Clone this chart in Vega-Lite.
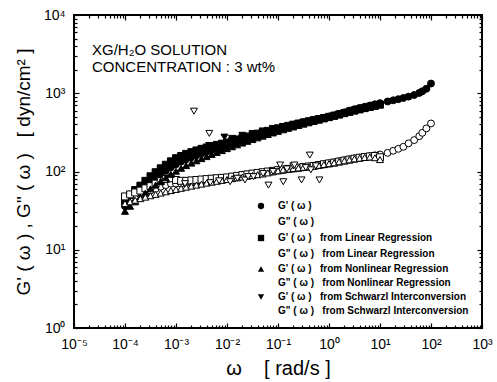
{
  "$schema": "https://vega.github.io/schema/vega-lite/v6.json",
  "width": 408,
  "height": 313,
  "autosize": {"type": "none"},
  "padding": {"left": 74, "top": 15, "right": 15, "bottom": 54},
  "background": "white",
  "config": {
    "font": "Liberation Sans",
    "view": {"stroke": "black", "strokeWidth": 2}
  },
  "datasets": {
    "names": [
      {"s": "A", "series": "G' ( ω )"},
      {"s": "B", "series": "G\" ( ω )"},
      {"s": "C", "series": "G' ( ω )  from Linear Regression"},
      {"s": "D", "series": "G\" ( ω )  from Linear Regression"},
      {"s": "E", "series": "G' ( ω )  from Nonlinear Regression"},
      {"s": "F", "series": "G\" ( ω )  from Nonlinear Regression"},
      {"s": "G", "series": "G' ( ω )  from Schwarzl Interconversion"},
      {"s": "H", "series": "G\" ( ω )  from Schwarzl Interconversion"}
    ],
    "pts": [
      {"s":"A","w":0.0001,"G":36},{"s":"A","w":0.000126,"G":43},{"s":"A","w":0.000158,"G":49},{"s":"A","w":0.0002,"G":56},{"s":"A","w":0.000251,"G":64},{"s":"A","w":0.000316,"G":73},{"s":"A","w":0.000398,"G":82},{"s":"A","w":0.000501,"G":92},{"s":"A","w":0.000631,"G":102},{"s":"A","w":0.000794,"G":113},{"s":"A","w":0.001,"G":124},{"s":"A","w":0.00126,"G":134},{"s":"A","w":0.00158,"G":143},{"s":"A","w":0.002,"G":152},{"s":"A","w":0.00251,"G":161},{"s":"A","w":0.00316,"G":170},{"s":"A","w":0.00398,"G":179},{"s":"A","w":0.00501,"G":188},{"s":"A","w":0.00631,"G":197},{"s":"A","w":0.00794,"G":206},{"s":"A","w":0.01,"G":215},{"s":"A","w":0.0126,"G":226},{"s":"A","w":0.0158,"G":238},{"s":"A","w":0.02,"G":250},{"s":"A","w":0.0251,"G":262},
      {"s":"A","w":0.0316,"G":275},{"s":"A","w":0.0398,"G":290},{"s":"A","w":0.0501,"G":305},{"s":"A","w":0.0631,"G":320},{"s":"A","w":0.0794,"G":335},{"s":"A","w":0.1,"G":350},{"s":"A","w":0.126,"G":365},{"s":"A","w":0.158,"G":380},{"s":"A","w":0.2,"G":395},{"s":"A","w":0.251,"G":410},{"s":"A","w":0.316,"G":425},{"s":"A","w":0.398,"G":440},{"s":"A","w":0.501,"G":455},{"s":"A","w":0.631,"G":470},{"s":"A","w":0.794,"G":487},{"s":"A","w":1,"G":505},{"s":"A","w":1.26,"G":522},{"s":"A","w":1.58,"G":545},{"s":"A","w":2,"G":570},{"s":"A","w":2.51,"G":600},{"s":"A","w":3.16,"G":625},{"s":"A","w":3.98,"G":650},{"s":"A","w":5.01,"G":672},{"s":"A","w":6.31,"G":697},{"s":"A","w":7.94,"G":722},{"s":"A","w":10,"G":748},{"s":"A","w":14.1,"G":785},{"s":"A","w":18.2,"G":812},{"s":"A","w":22.9,"G":840},{"s":"A","w":28.8,"G":870},{"s":"A","w":36.3,"G":905},{"s":"A","w":46.8,"G":950},{"s":"A","w":58.9,"G":1010},{"s":"A","w":67.6,"G":1060},{"s":"A","w":81.3,"G":1140},{"s":"A","w":100,"G":1330},
      {"s":"B","w":0.0001,"G":44},{"s":"B","w":0.000126,"G":46},{"s":"B","w":0.000158,"G":48},{"s":"B","w":0.0002,"G":51},{"s":"B","w":0.000251,"G":54},{"s":"B","w":0.000316,"G":57},{"s":"B","w":0.000398,"G":60},{"s":"B","w":0.000501,"G":64},{"s":"B","w":0.000631,"G":67},{"s":"B","w":0.000794,"G":70},{"s":"B","w":0.001,"G":70},{"s":"B","w":0.00126,"G":70},{"s":"B","w":0.00158,"G":71},{"s":"B","w":0.002,"G":72},{"s":"B","w":0.00251,"G":73},{"s":"B","w":0.00316,"G":74},{"s":"B","w":0.00398,"G":75},{"s":"B","w":0.00501,"G":77},{"s":"B","w":0.00631,"G":78},{"s":"B","w":0.00794,"G":80},{"s":"B","w":0.01,"G":82},{"s":"B","w":0.0126,"G":84},{"s":"B","w":0.0158,"G":86},{"s":"B","w":0.02,"G":88},{"s":"B","w":0.0251,"G":90},
      {"s":"B","w":0.0316,"G":92},{"s":"B","w":0.0398,"G":94},{"s":"B","w":0.0501,"G":96},{"s":"B","w":0.0631,"G":98},{"s":"B","w":0.0794,"G":100},{"s":"B","w":0.1,"G":103},{"s":"B","w":0.126,"G":105},{"s":"B","w":0.158,"G":107},{"s":"B","w":0.2,"G":109},{"s":"B","w":0.251,"G":111},{"s":"B","w":0.316,"G":113},{"s":"B","w":0.398,"G":115},{"s":"B","w":0.501,"G":117},{"s":"B","w":0.631,"G":120},{"s":"B","w":0.794,"G":123},{"s":"B","w":1,"G":127},{"s":"B","w":1.26,"G":131},{"s":"B","w":1.58,"G":135},{"s":"B","w":2,"G":139},{"s":"B","w":2.51,"G":143},{"s":"B","w":3.16,"G":147},{"s":"B","w":3.98,"G":150},{"s":"B","w":5.01,"G":153},{"s":"B","w":6.31,"G":157},{"s":"B","w":7.94,"G":161},{"s":"B","w":10,"G":165},{"s":"B","w":14.1,"G":173},{"s":"B","w":18.2,"G":184},{"s":"B","w":22.9,"G":195},{"s":"B","w":28.8,"G":207},{"s":"B","w":36.3,"G":229},{"s":"B","w":46.8,"G":252},{"s":"B","w":58.9,"G":283},{"s":"B","w":67.6,"G":312},{"s":"B","w":81.3,"G":356},{"s":"B","w":100,"G":411},
      {"s":"C","w":0.0001,"G":42},{"s":"C","w":0.000126,"G":50},{"s":"C","w":0.000158,"G":58},{"s":"C","w":0.0002,"G":66},{"s":"C","w":0.000251,"G":76},{"s":"C","w":0.000316,"G":87},{"s":"C","w":0.000398,"G":98},{"s":"C","w":0.000501,"G":110},{"s":"C","w":0.000631,"G":122},{"s":"C","w":0.000794,"G":135},{"s":"C","w":0.001,"G":148},{"s":"C","w":0.00126,"G":158},{"s":"C","w":0.00158,"G":168},{"s":"C","w":0.002,"G":177},{"s":"C","w":0.00251,"G":186},{"s":"C","w":0.00316,"G":195},{"s":"C","w":0.00398,"G":203},{"s":"C","w":0.00501,"G":211},{"s":"C","w":0.00631,"G":219},{"s":"C","w":0.00794,"G":227},{"s":"C","w":0.01,"G":235},{"s":"C","w":0.0126,"G":246},{"s":"C","w":0.0158,"G":257},{"s":"C","w":0.02,"G":268},{"s":"C","w":0.0251,"G":280},{"s":"C","w":0.0316,"G":292},{"s":"C","w":0.0398,"G":305},{"s":"C","w":0.0501,"G":318},{"s":"C","w":0.0631,"G":331},{"s":"C","w":0.0794,"G":344},{"s":"C","w":0.1,"G":357},{"s":"C","w":0.126,"G":370},{"s":"C","w":0.158,"G":383},{"s":"C","w":0.2,"G":396},{"s":"C","w":0.251,"G":410},{"s":"C","w":0.316,"G":424},{"s":"C","w":0.398,"G":438},{"s":"C","w":0.501,"G":452},{"s":"C","w":0.631,"G":467},{"s":"C","w":0.794,"G":483},{"s":"C","w":1,"G":500},{"s":"C","w":1.26,"G":518},{"s":"C","w":1.58,"G":538},{"s":"C","w":2,"G":560},{"s":"C","w":2.51,"G":582},{"s":"C","w":3.16,"G":604},{"s":"C","w":3.98,"G":626},{"s":"C","w":5.01,"G":648},{"s":"C","w":6.31,"G":670},{"s":"C","w":7.94,"G":694},{"s":"C","w":10,"G":718},
      {"s":"D","w":0.0001,"G":48},{"s":"D","w":0.000126,"G":51},{"s":"D","w":0.000158,"G":54},{"s":"D","w":0.0002,"G":57},{"s":"D","w":0.000251,"G":61},{"s":"D","w":0.000316,"G":65},{"s":"D","w":0.000398,"G":70},{"s":"D","w":0.000501,"G":75},{"s":"D","w":0.000631,"G":80},{"s":"D","w":0.000794,"G":82},{"s":"D","w":0.001,"G":78},{"s":"D","w":0.00126,"G":76},{"s":"D","w":0.00158,"G":76},{"s":"D","w":0.002,"G":77},{"s":"D","w":0.00251,"G":78},{"s":"D","w":0.00316,"G":79},{"s":"D","w":0.00398,"G":80},{"s":"D","w":0.00501,"G":81},{"s":"D","w":0.00631,"G":82},{"s":"D","w":0.00794,"G":83},{"s":"D","w":0.01,"G":84},{"s":"D","w":0.0126,"G":86},{"s":"D","w":0.0158,"G":88},{"s":"D","w":0.02,"G":90},{"s":"D","w":0.0251,"G":92},{"s":"D","w":0.0316,"G":94},{"s":"D","w":0.0398,"G":96},{"s":"D","w":0.0501,"G":98},{"s":"D","w":0.0631,"G":100},{"s":"D","w":0.0794,"G":102},{"s":"D","w":0.1,"G":104},{"s":"D","w":0.126,"G":106},{"s":"D","w":0.158,"G":108},{"s":"D","w":0.2,"G":110},{"s":"D","w":0.251,"G":112},{"s":"D","w":0.316,"G":114},{"s":"D","w":0.398,"G":116},{"s":"D","w":0.501,"G":118},{"s":"D","w":0.631,"G":121},{"s":"D","w":0.794,"G":124},{"s":"D","w":1,"G":127},{"s":"D","w":1.26,"G":130},{"s":"D","w":1.58,"G":134},{"s":"D","w":2,"G":138},{"s":"D","w":2.51,"G":142},{"s":"D","w":3.16,"G":146},{"s":"D","w":3.98,"G":150},{"s":"D","w":5.01,"G":153},{"s":"D","w":6.31,"G":156},{"s":"D","w":7.94,"G":158},{"s":"D","w":10,"G":152},
      {"s":"E","w":0.0001,"G":31},{"s":"E","w":0.000126,"G":36},{"s":"E","w":0.000158,"G":41},{"s":"E","w":0.0002,"G":47},{"s":"E","w":0.000251,"G":53},{"s":"E","w":0.000316,"G":60},{"s":"E","w":0.000398,"G":67},{"s":"E","w":0.000501,"G":75},{"s":"E","w":0.000631,"G":83},{"s":"E","w":0.000794,"G":92},{"s":"E","w":0.001,"G":101},{"s":"E","w":0.00126,"G":110},{"s":"E","w":0.00158,"G":119},{"s":"E","w":0.002,"G":128},{"s":"E","w":0.00251,"G":137},{"s":"E","w":0.00316,"G":146},{"s":"E","w":0.00398,"G":155},{"s":"E","w":0.00501,"G":165},{"s":"E","w":0.00631,"G":175},{"s":"E","w":0.00794,"G":185},{"s":"E","w":0.01,"G":196},{"s":"E","w":0.0126,"G":207},{"s":"E","w":0.0158,"G":219},{"s":"E","w":0.02,"G":231},{"s":"E","w":0.0251,"G":243},{"s":"E","w":0.0316,"G":256},{"s":"E","w":0.0398,"G":269},{"s":"E","w":0.0501,"G":283},{"s":"E","w":0.0631,"G":297},{"s":"E","w":0.0794,"G":311},{"s":"E","w":0.1,"G":326},{"s":"E","w":0.126,"G":341},{"s":"E","w":0.158,"G":356},{"s":"E","w":0.2,"G":371},{"s":"E","w":0.251,"G":387},{"s":"E","w":0.316,"G":403},{"s":"E","w":0.398,"G":419},{"s":"E","w":0.501,"G":436},{"s":"E","w":0.631,"G":453},{"s":"E","w":0.794,"G":470},{"s":"E","w":1,"G":488},{"s":"E","w":1.26,"G":507},{"s":"E","w":1.58,"G":527},{"s":"E","w":2,"G":548},{"s":"E","w":2.51,"G":570},{"s":"E","w":3.16,"G":592},{"s":"E","w":3.98,"G":614},{"s":"E","w":5.01,"G":636},{"s":"E","w":6.31,"G":659},{"s":"E","w":7.94,"G":683},{"s":"E","w":10,"G":707},
      {"s":"F","w":0.0001,"G":39},{"s":"F","w":0.000126,"G":41},{"s":"F","w":0.000158,"G":43},{"s":"F","w":0.0002,"G":45},{"s":"F","w":0.000251,"G":47},{"s":"F","w":0.000316,"G":49},{"s":"F","w":0.000398,"G":51},{"s":"F","w":0.000501,"G":53},{"s":"F","w":0.000631,"G":55},{"s":"F","w":0.000794,"G":57},{"s":"F","w":0.001,"G":59},{"s":"F","w":0.00126,"G":61},{"s":"F","w":0.00158,"G":63},{"s":"F","w":0.002,"G":65},{"s":"F","w":0.00251,"G":67},{"s":"F","w":0.00316,"G":69},{"s":"F","w":0.00398,"G":71},{"s":"F","w":0.00501,"G":73},{"s":"F","w":0.00631,"G":75},{"s":"F","w":0.00794,"G":77},{"s":"F","w":0.01,"G":79},{"s":"F","w":0.0126,"G":81},{"s":"F","w":0.0158,"G":83},{"s":"F","w":0.02,"G":85},{"s":"F","w":0.0251,"G":87},{"s":"F","w":0.0316,"G":89},{"s":"F","w":0.0398,"G":91},{"s":"F","w":0.0501,"G":93},{"s":"F","w":0.0631,"G":96},{"s":"F","w":0.0794,"G":99},{"s":"F","w":0.1,"G":102},{"s":"F","w":0.126,"G":105},{"s":"F","w":0.158,"G":107},{"s":"F","w":0.2,"G":109},{"s":"F","w":0.251,"G":111},{"s":"F","w":0.316,"G":113},{"s":"F","w":0.398,"G":115},{"s":"F","w":0.501,"G":117},{"s":"F","w":0.631,"G":120},{"s":"F","w":0.794,"G":123},{"s":"F","w":1,"G":126},{"s":"F","w":1.26,"G":129},{"s":"F","w":1.58,"G":133},{"s":"F","w":2,"G":137},{"s":"F","w":2.51,"G":141},{"s":"F","w":3.16,"G":145},{"s":"F","w":3.98,"G":148},{"s":"F","w":5.01,"G":151},{"s":"F","w":6.31,"G":153},{"s":"F","w":7.94,"G":150},{"s":"F","w":10,"G":142},
      {"s":"G","w":0.00224,"G":170},{"s":"G","w":0.00316,"G":190},{"s":"G","w":0.00447,"G":215},{"s":"G","w":0.0089,"G":275},{"s":"G","w":0.0126,"G":265},{"s":"G","w":0.02,"G":290},{"s":"G","w":0.0316,"G":305},{"s":"G","w":0.05,"G":330},{"s":"G","w":0.0794,"G":355},{"s":"G","w":0.126,"G":375},{"s":"G","w":0.2,"G":400},{"s":"G","w":0.316,"G":425},{"s":"G","w":0.5,"G":455},{"s":"G","w":0.63,"G":470},
      {"s":"H","w":0.00225,"G":590},{"s":"H","w":0.0045,"G":307},{"s":"H","w":0.0015,"G":70},{"s":"H","w":0.0047,"G":72},{"s":"H","w":0.007,"G":76},{"s":"H","w":0.0115,"G":74},{"s":"H","w":0.016,"G":82},{"s":"H","w":0.0225,"G":78},{"s":"H","w":0.026,"G":86},{"s":"H","w":0.033,"G":86},{"s":"H","w":0.051,"G":94},{"s":"H","w":0.065,"G":67},{"s":"H","w":0.08,"G":100},{"s":"H","w":0.11,"G":121},{"s":"H","w":0.127,"G":74},{"s":"H","w":0.15,"G":108},{"s":"H","w":0.2,"G":118},{"s":"H","w":0.21,"G":121},{"s":"H","w":0.29,"G":78},{"s":"H","w":0.35,"G":112},{"s":"H","w":0.42,"G":162},{"s":"H","w":0.44,"G":105},{"s":"H","w":0.55,"G":118},{"s":"H","w":0.65,"G":78}
    ],
    "notes": [
      {"w": 0.0000225, "G": 3550, "t": "XG/H₂O SOLUTION"},
      {"w": 0.0000225, "G": 2150, "t": "CONCENTRATION : 3 wt%"}
    ]
  },
  "layer": [
    {
      "data": {"name": "pts"},
      "transform": [
        {"lookup": "s", "from": {"data": {"name": "names"}, "key": "s", "fields": ["series"]}}
      ],
      "mark": {"type": "point", "filled": true, "stroke": "black", "strokeWidth": 1, "size": 48, "opacity": 1},
      "encoding": {
        "x": {
          "field": "w", "type": "quantitative",
          "scale": {"type": "log", "domain": [0.00001, 1000], "nice": false},
          "axis": {
            "orient": "bottom", "tickCount": 80,
            "labelExpr": "abs(log(datum.value)/LN10-round(log(datum.value)/LN10))<0.001 ? '10'+(round(log(datum.value)/LN10)<0?'⁻':'')+['⁰','¹','²','³','⁴','⁵','⁶','⁷','⁸','⁹'][abs(round(log(datum.value)/LN10))] : ''",
            "ticks": true,
            "tickSize": {"condition": {"test": "abs(log(datum.value)/LN10-round(log(datum.value)/LN10))<0.001", "value": -5}, "value": -3},
            "tickColor": "black", "tickWidth": 1.2,
            "domain": false, "grid": false,
            "labelFontSize": 14, "labelColor": "black", "labelPadding": 14,
            "labelFlush": false, "labelOverlap": false, "labelBound": false,
            "title": "ω\u00a0\u00a0\u00a0\u00a0[\u00a0rad/s\u00a0]", "titleFontSize": 20, "titleFontWeight": "normal", "titleColor": "black", "titlePadding": 5
          }
        },
        "y": {
          "field": "G", "type": "quantitative",
          "scale": {"type": "log", "domain": [1, 10000], "nice": false},
          "axis": {
            "orient": "left", "tickCount": 40,
            "labelExpr": "abs(log(datum.value)/LN10-round(log(datum.value)/LN10))<0.001 ? '10'+(round(log(datum.value)/LN10)<0?'⁻':'')+['⁰','¹','²','³','⁴','⁵','⁶','⁷','⁸','⁹'][abs(round(log(datum.value)/LN10))] : ''",
            "ticks": true,
            "tickSize": {"condition": {"test": "abs(log(datum.value)/LN10-round(log(datum.value)/LN10))<0.001", "value": -5}, "value": -3},
            "tickColor": "black", "tickWidth": 1.2,
            "domain": false, "grid": false,
            "labelFontSize": 14, "labelColor": "black", "labelPadding": 14,
            "labelFlush": false, "labelOverlap": false, "labelBound": false,
            "title": "G' ( ω ) , G\" ( ω )\u00a0\u00a0\u00a0[ dyn/cm² ]", "titleFontSize": 19, "titleFontWeight": "normal", "titleColor": "black", "titlePadding": 10
          }
        },
        "shape": {
          "field": "series", "type": "nominal",
          "scale": {
            "domain": ["G' ( ω )", "G\" ( ω )", "G' ( ω )  from Linear Regression", "G\" ( ω )  from Linear Regression", "G' ( ω )  from Nonlinear Regression", "G\" ( ω )  from Nonlinear Regression", "G' ( ω )  from Schwarzl Interconversion", "G\" ( ω )  from Schwarzl Interconversion"],
            "range": ["circle", "circle", "square", "square", "triangle-up", "triangle-up", "triangle-down", "triangle-down"]
          },
          "legend": {
            "orient": "none", "legendX": 182, "legendY": 186, "title": null,
            "symbolStrokeColor": "black", "symbolStrokeWidth": 1, "symbolSize": 40,
            "labelFontSize": 10, "labelFontWeight": "bold", "labelColor": "black", "labelOffset": 12, "labelLimit": 300,
            "rowPadding": 4,
            "labelExpr": "replace(datum.label, '  ', '\u00a0\u00a0\u00a0')",
            "encode": {"symbols": {"update": {"stroke": {"value": "black"}, "strokeWidth": {"value": 1}}}}
          }
        },
        "fill": {
          "field": "series", "type": "nominal",
          "scale": {
            "domain": ["G' ( ω )", "G\" ( ω )", "G' ( ω )  from Linear Regression", "G\" ( ω )  from Linear Regression", "G' ( ω )  from Nonlinear Regression", "G\" ( ω )  from Nonlinear Regression", "G' ( ω )  from Schwarzl Interconversion", "G\" ( ω )  from Schwarzl Interconversion"],
            "range": ["black", "white", "black", "white", "black", "white", "black", "white"]
          },
          "legend": {
            "orient": "none", "legendX": 182, "legendY": 186, "title": null,
            "symbolStrokeColor": "black", "symbolStrokeWidth": 1, "symbolSize": 40,
            "labelFontSize": 10, "labelFontWeight": "bold", "labelColor": "black", "labelOffset": 12, "labelLimit": 300,
            "rowPadding": 4,
            "labelExpr": "replace(datum.label, '  ', '\u00a0\u00a0\u00a0')",
            "encode": {"symbols": {"update": {"stroke": {"value": "black"}, "strokeWidth": {"value": 1}}}}
          }
        }
      }
    },
    {
      "data": {"name": "notes"},
      "mark": {"type": "text", "align": "left", "baseline": "middle", "fontSize": 15, "color": "black"},
      "encoding": {
        "x": {
          "field": "w", "type": "quantitative",
          "axis": {
            "orient": "top", "tickCount": 80, "labels": false, "title": null, "grid": false, "domain": false, "ticks": true,
            "tickSize": {"condition": {"test": "abs(log(datum.value)/LN10-round(log(datum.value)/LN10))<0.001", "value": -5}, "value": -3},
            "tickColor": "black", "tickWidth": 1.2
          }
        },
        "y": {
          "field": "G", "type": "quantitative",
          "axis": {
            "orient": "right", "tickCount": 40, "labels": false, "title": null, "grid": false, "domain": false, "ticks": true,
            "tickSize": {"condition": {"test": "abs(log(datum.value)/LN10-round(log(datum.value)/LN10))<0.001", "value": -5}, "value": -3},
            "tickColor": "black", "tickWidth": 1.2
          }
        },
        "text": {"field": "t", "type": "nominal"}
      }
    }
  ],
  "resolve": {"axis": {"x": "independent", "y": "independent"}}
}
